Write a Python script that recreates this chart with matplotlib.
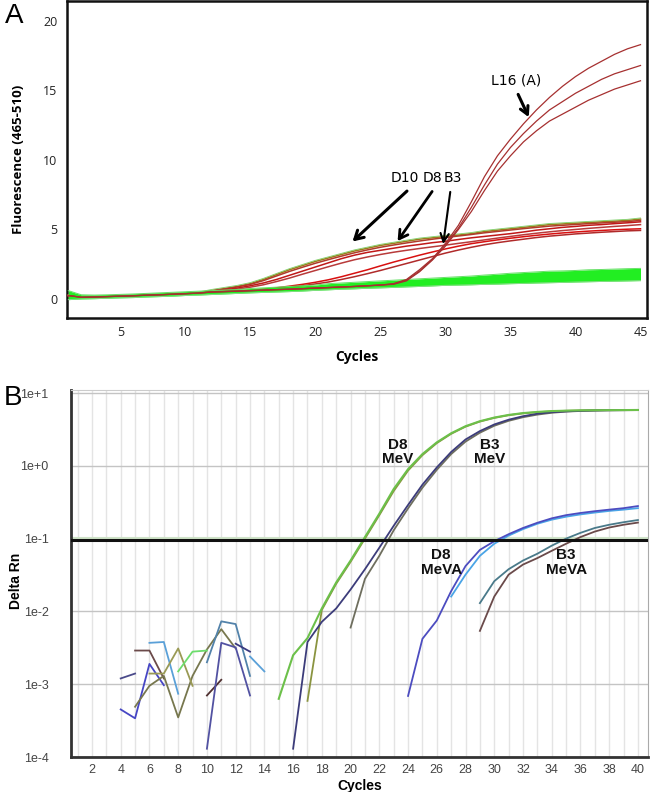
import matplotlib
matplotlib.use('Agg')
import matplotlib.pyplot as plt
from matplotlib.ticker import NullLocator, FixedLocator
import numpy as np

# ---- panel A data (fluorescence 465-510 vs cycle) ----
cycles_a = np.arange(1, 46)

green_lo = [-0.05, 0.0, 0.02, 0.05, 0.08, 0.1, 0.14, 0.17, 0.2, 0.25,
            0.28, 0.32, 0.36, 0.4, 0.44, 0.47, 0.5, 0.53, 0.57, 0.62,
            0.66, 0.7, 0.73, 0.77, 0.8, 0.83, 0.87, 0.9, 0.94, 0.98,
            1.0, 1.02, 1.05, 1.07, 1.1, 1.12, 1.15, 1.17, 1.19, 1.22,
            1.24, 1.26, 1.28, 1.3, 1.32]
green_hi = [0.6, 0.3, 0.28, 0.3, 0.33, 0.36, 0.4, 0.44, 0.48, 0.52,
            0.56, 0.6, 0.64, 0.68, 0.75, 0.8, 0.85, 0.9, 0.95, 1.0,
            1.1, 1.15, 1.2, 1.25, 1.3, 1.35, 1.4, 1.45, 1.5, 1.55,
            1.6, 1.65, 1.72, 1.78, 1.85, 1.9, 1.95, 2.0, 2.02, 2.05,
            2.1, 2.12, 2.15, 2.18, 2.2]

# cycles 1-11, all positive samples sit on the baseline
red_base = [0.25, 0.12, 0.14, 0.17, 0.2, 0.23, 0.27, 0.3, 0.34, 0.38, 0.42]

# cycles 12-45
d10_a = [0.6, 0.75, 0.9, 1.1, 1.4, 1.75, 2.1, 2.4, 2.7, 2.95, 3.2, 3.45, 3.65, 3.85,
         4.0, 4.15, 4.3, 4.4, 4.5, 4.6, 4.7, 4.85, 4.95, 5.05, 5.15, 5.25, 5.35, 5.4,
         5.45, 5.5, 5.55, 5.6, 5.65, 5.75]
d10_b = [0.58, 0.72, 0.87, 1.05, 1.32, 1.65, 1.98, 2.28, 2.57, 2.83, 3.08, 3.32, 3.53, 3.72,
         3.88, 4.03, 4.17, 4.3, 4.42, 4.53, 4.64, 4.76, 4.86, 4.96, 5.06, 5.15, 5.24, 5.3,
         5.36, 5.42, 5.47, 5.52, 5.57, 5.65]
d8_a = [0.55, 0.65, 0.78, 0.95, 1.15, 1.4, 1.7, 2.0, 2.3, 2.6, 2.9, 3.15, 3.35, 3.5,
        3.65, 3.8, 3.92, 4.05, 4.15, 4.28, 4.4, 4.5, 4.6, 4.7, 4.82, 4.95, 5.05, 5.15,
        5.22, 5.3, 5.35, 5.42, 5.48, 5.55]
d8_b = [0.52, 0.6, 0.7, 0.85, 1.02, 1.25, 1.5, 1.78, 2.05, 2.32, 2.58, 2.82, 3.02, 3.2,
        3.36, 3.5, 3.63, 3.75, 3.87, 4.0, 4.12, 4.25, 4.38, 4.5, 4.62, 4.73, 4.83, 4.92,
        5.0, 5.08, 5.15, 5.22, 5.28, 5.35]
b3_a = [0.5, 0.54, 0.58, 0.63, 0.7, 0.8, 0.92, 1.05, 1.2, 1.38, 1.6, 1.85, 2.1, 2.38,
        2.65, 2.9, 3.15, 3.38, 3.6, 3.8, 3.98, 4.12, 4.25, 4.37, 4.48, 4.58, 4.67, 4.75,
        4.82, 4.88, 4.93, 4.98, 5.02, 5.05]
b3_b = [0.48, 0.52, 0.55, 0.6, 0.66, 0.74, 0.84, 0.95, 1.08, 1.22, 1.4, 1.6, 1.82, 2.05,
        2.3, 2.55, 2.8, 3.05, 3.3, 3.52, 3.72, 3.9, 4.05, 4.18, 4.3, 4.42, 4.52, 4.6,
        4.68, 4.74, 4.8, 4.85, 4.9, 4.93]
l16_a = [0.5, 0.53, 0.56, 0.6, 0.63, 0.67, 0.7, 0.74, 0.78, 0.82, 0.86, 0.9, 0.95, 1.0,
         1.1, 1.4, 2.1, 2.9, 4.0, 5.3, 7.0, 8.8, 10.3, 11.5, 12.6, 13.6, 14.5, 15.3,
         16.0, 16.6, 17.1, 17.6, 18.0, 18.3]
l16_b = [0.5, 0.53, 0.56, 0.6, 0.63, 0.67, 0.7, 0.74, 0.78, 0.82, 0.86, 0.9, 0.95, 1.0,
         1.08, 1.35, 2.0, 2.85, 3.9, 5.1, 6.6, 8.2, 9.7, 10.9, 11.9, 12.8, 13.6, 14.2,
         14.8, 15.3, 15.8, 16.2, 16.5, 16.8]
l16_c = [0.5, 0.53, 0.56, 0.6, 0.63, 0.67, 0.7, 0.74, 0.78, 0.82, 0.86, 0.9, 0.95, 1.0,
         1.05, 1.3, 1.95, 2.8, 3.8, 5.0, 6.3, 7.8, 9.2, 10.3, 11.3, 12.1, 12.8, 13.3,
         13.8, 14.3, 14.7, 15.1, 15.4, 15.7]

# ---- panel B data (Delta Rn vs cycle, log) ----
noise_runs = [
    ([4, 5], [1.2e-3, 1.4e-3], '#4a4a8a'),
    ([4, 5, 6, 7], [4.5e-4, 3.4e-4, 1.9e-3, 9.7e-4], '#4646c4'),
    ([5, 6, 7], [2.9e-3, 2.9e-3, 1.2e-3], '#6b4a4a'),
    ([5, 6, 7, 8, 9, 10, 11, 12], [4.9e-4, 9.5e-4, 1.3e-3, 3.5e-4, 1.3e-3, 3.0e-3, 5.7e-3, 3.1e-3], '#77774e'),
    ([6, 7, 8], [3.7e-3, 3.8e-3, 7.4e-4], '#5aa0d8'),
    ([6, 7, 8, 9], [1.4e-3, 1.4e-3, 3.1e-3, 9.5e-4], '#9a9a55'),
    ([8, 9, 10], [1.5e-3, 2.8e-3, 2.9e-3], '#6ddd6d'),
    ([10, 11], [7.0e-4, 1.15e-3], '#503030'),
    ([10, 11, 12, 13], [1.3e-4, 3.7e-3, 3.2e-3, 7.0e-4], '#5252a2'),
    ([10, 11, 12, 13], [2.0e-3, 7.3e-3, 6.7e-3, 1.3e-3], '#5282aa'),
    ([12, 13], [3.6e-3, 2.8e-3], '#3a3a80'),
    ([13, 14], [2.4e-3, 1.5e-3], '#5aa0d8'),
]

d8mev_green_x = list(range(15, 41))
d8mev_green = [6.3e-4, 2.5e-3, 4.3e-3, 0.011, 0.025, 0.05, 0.105, 0.22, 0.48, 0.9,
               1.45, 2.1, 2.8, 3.5, 4.1, 4.6, 5.0, 5.3, 5.5, 5.65, 5.72, 5.78, 5.8,
               5.82, 5.83, 5.85]
d8mev_olive_x = list(range(17, 41))
d8mev_olive = [5.9e-4, 0.0105, 0.024, 0.048, 0.1, 0.21, 0.45, 0.86, 1.4, 2.05, 2.75,
               3.45, 4.05, 4.55, 4.95, 5.25, 5.45, 5.6, 5.7, 5.76, 5.8, 5.82, 5.83, 5.84]
b3mev_navy_x = list(range(16, 41))
b3mev_navy = [1.3e-4, 3.8e-3, 7.2e-3, 0.011, 0.02, 0.038, 0.075, 0.15, 0.29, 0.55,
              0.95, 1.55, 2.3, 3.0, 3.7, 4.3, 4.8, 5.2, 5.45, 5.6, 5.7, 5.76, 5.8,
              5.82, 5.84]
b3mev_gray_x = list(range(20, 41))
b3mev_gray = [0.006, 0.028, 0.058, 0.13, 0.26, 0.5, 0.88, 1.45, 2.15, 2.85, 3.55,
              4.15, 4.65, 5.05, 5.35, 5.55, 5.67, 5.74, 5.78, 5.8, 5.82]
d8meva_blue_x = list(range(24, 41))
d8meva_blue = [6.9e-4, 4.2e-3, 7.5e-3, 0.019, 0.042, 0.07, 0.092, 0.115, 0.14, 0.165,
               0.19, 0.21, 0.225, 0.238, 0.25, 0.262, 0.28]
d8meva_light_x = list(range(27, 41))
d8meva_light = [0.016, 0.032, 0.058, 0.085, 0.11, 0.135, 0.16, 0.182, 0.2, 0.215,
                0.228, 0.24, 0.25, 0.262]
b3meva_teal_x = list(range(29, 41))
b3meva_teal = [0.013, 0.026, 0.038, 0.05, 0.062, 0.08, 0.1, 0.12, 0.14, 0.155, 0.168, 0.18]
b3meva_brown_x = list(range(29, 41))
b3meva_brown = [0.0054, 0.016, 0.032, 0.044, 0.054, 0.068, 0.085, 0.105, 0.125, 0.142,
                0.155, 0.166]
threshold = 0.095

fig = plt.figure(figsize=(6.5, 7.92), dpi=100)

# ================= panel A =================
axA = fig.add_axes([67/650, 1 - 318/792, 580/650, 317/792])

pos_curves = [(d10_a, '#9c7a1c'), (d10_b, '#b03a2a'), (d8_a, '#c01818'), (d8_b, '#b83a3a'),
              (b3_a, '#d81010'), (b3_b, '#b02a2a')]
for vals, col in pos_curves:
    axA.plot(cycles_a, red_base + vals, color=col, lw=1.1, zorder=3)
# light outline along the D10 curve
axA.plot(cycles_a, np.array(red_base + d10_a) + 0.08, color='#7fd06a', lw=0.6, zorder=3)

axA.fill_between(cycles_a, green_lo, green_hi, color='#22ee22', lw=0, zorder=4)
axA.plot(cycles_a, green_lo, color='#88dd88', lw=0.7, zorder=4)
axA.plot(cycles_a, green_hi, color='#66e066', lw=0.7, zorder=4)

for vals in (l16_a, l16_b, l16_c):
    axA.plot(cycles_a, red_base + vals, color='#a63030', lw=0.9, zorder=5)

axA.set_xlim(0.9, 45.5)
axA.set_ylim(-1.37, 21.44)
axA.set_xticks([5, 10, 15, 20, 25, 30, 35, 40, 45])
axA.set_yticks([0, 5, 10, 15, 20])
axA.tick_params(length=0, labelsize=9, pad=6)
axA.tick_params(axis='y', pad=7)
for lab in axA.get_xticklabels() + axA.get_yticklabels():
    lab.set_family('Open Sans')
    lab.set_color('#222222')
for sp in axA.spines.values():
    sp.set_linewidth(1.8)
    sp.set_color('#111111')
axA.set_xlabel('Cycles', fontsize=10, fontweight='bold', family='Open Sans', labelpad=8)
axA.set_ylabel('Fluorescence (465-510)', fontsize=9.5, fontweight='bold', family='Open Sans')
axA.yaxis.set_label_coords(-0.072, 0.5)

narrow = ['Liberation Sans Narrow', 'DejaVu Sans']
axA.text(35.4, 15.7, 'L16 (A)', fontsize=10, family=narrow, ha='center', va='center')
axA.annotate('', xy=(36.5, 12.9), xytext=(35.5, 14.9),
             arrowprops=dict(arrowstyle='->,head_length=0.55,head_width=0.3', lw=2.2, color='black'))
axA.text(26.9, 8.7, 'D10', fontsize=10, family=narrow, ha='center', va='center')
axA.text(29.0, 8.7, 'D8', fontsize=10, family=narrow, ha='center', va='center')
axA.text(30.6, 8.7, 'B3', fontsize=10, family=narrow, ha='center', va='center')
axA.annotate('', xy=(22.7, 4.0), xytext=(27.2, 7.9),
             arrowprops=dict(arrowstyle='->,head_length=0.6,head_width=0.35', lw=2.2, color='black'))
axA.annotate('', xy=(26.2, 4.0), xytext=(29.1, 7.9),
             arrowprops=dict(arrowstyle='->,head_length=0.6,head_width=0.35', lw=2.0, color='black'))
axA.annotate('', xy=(29.8, 3.75), xytext=(30.4, 7.9),
             arrowprops=dict(arrowstyle='->,head_length=0.6,head_width=0.3', lw=1.5, color='black'))

# ================= panel B =================
axB = fig.add_axes([71/650, 1 - 757/792, 577/650, 367/792])
axB.set_yscale('log')
axB.set_xlim(0.54, 40.7)
axB.set_ylim(1e-4, 11)

axB.set_xticks(range(2, 41, 2))
axB.xaxis.set_minor_locator(FixedLocator(range(1, 41, 2)))
axB.yaxis.set_major_locator(FixedLocator([1e-4, 1e-3, 1e-2, 1e-1, 1, 10]))
axB.yaxis.set_minor_locator(NullLocator())
axB.set_yticklabels(['1e-4', '1e-3', '1e-2', '1e-1', '1e+0', '1e+1'])
axB.grid(which='both', axis='x', color='#e4e4e4', lw=1.0, zorder=0)
axB.grid(which='major', axis='y', color='#c4c4c4', lw=1.0, zorder=0)
axB.set_axisbelow(True)

for xs, ys, col in noise_runs:
    axB.plot(xs, ys, color=col, lw=1.3, zorder=3)

axB.plot(d8mev_olive_x, d8mev_olive, color='#8a9440', lw=1.3, zorder=3)
axB.plot(d8mev_green_x, d8mev_green, color='#6cc04a', lw=1.5, zorder=4)
axB.plot(b3mev_gray_x, b3mev_gray, color='#6e6e5e', lw=1.3, zorder=3)
axB.plot(b3mev_navy_x, b3mev_navy, color='#3c3c7a', lw=1.3, zorder=3)
axB.plot(d8meva_light_x, d8meva_light, color='#4aa4e6', lw=1.3, zorder=3)
axB.plot(d8meva_blue_x, d8meva_blue, color='#4c4cc0', lw=1.3, zorder=3)
axB.plot(b3meva_teal_x, b3meva_teal, color='#4a7a8a', lw=1.3, zorder=3)
axB.plot(b3meva_brown_x, b3meva_brown, color='#6a4a4a', lw=1.3, zorder=3)

axB.axhline(threshold * 1.06, color='#cfe3c8', lw=1.5, zorder=2)
axB.axhline(threshold, color='#111111', lw=2.2, zorder=5)

bold = dict(fontsize=11, fontweight='bold', family='Liberation Sans', ha='center',
            va='center', linespacing=1.05, color='#111111', zorder=6)
axB.text(23.3, 1.55, 'D8\nMeV', **bold)
axB.text(29.7, 1.55, 'B3\nMeV', **bold)
axB.text(26.3, 0.047, 'D8\nMeVA', **bold)
axB.text(35.0, 0.047, 'B3\nMeVA', **bold)

axB.tick_params(which='both', length=0)
axB.tick_params(axis='y', pad=16, labelsize=9, labelcolor='#444444')
axB.tick_params(axis='x', pad=5, labelsize=9, labelcolor='#444444')
for lab in axB.get_xticklabels() + axB.get_yticklabels():
    lab.set_family('Liberation Sans')
axB.spines['left'].set_linewidth(2)
axB.spines['left'].set_color('#333333')
axB.spines['bottom'].set_linewidth(2)
axB.spines['bottom'].set_color('#333333')
axB.spines['top'].set_color('#cccccc')
axB.spines['right'].set_color('#aaaaaa')
axB.set_xlabel('Cycles', fontsize=10, fontweight='bold', family='Liberation Sans', labelpad=2)
axB.set_ylabel('Delta Rn', fontsize=10, fontweight='bold', family='Liberation Sans')
axB.yaxis.set_label_coords(-0.083, 0.48)

fig.text(14/650, 1 - 16/792, 'A', fontsize=20, family='Liberation Sans', ha='center', va='center')
fig.text(13/650, 1 - 398/792, 'B', fontsize=20, family='Liberation Sans', ha='center', va='center')

fig.savefig('out.png', dpi=100)
